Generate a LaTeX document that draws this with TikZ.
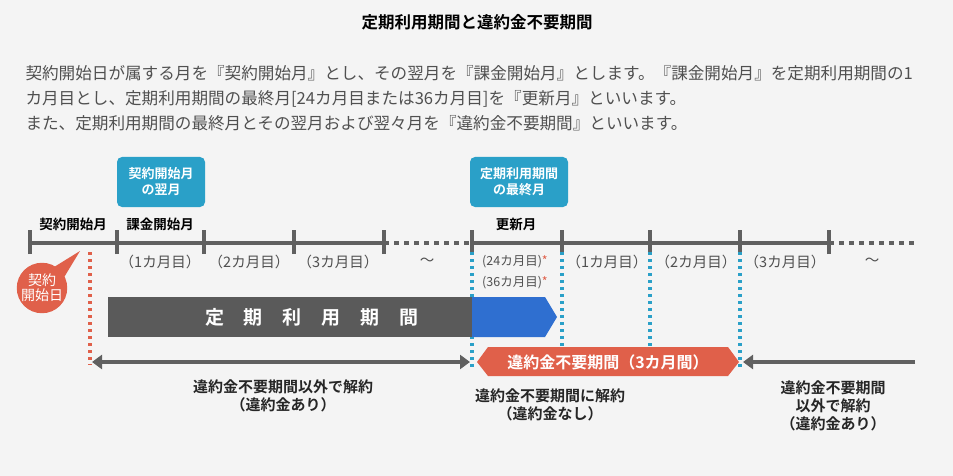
\documentclass[tikz,border=0pt]{standalone}
\usepackage{fontspec}
\setmainfont{Noto Sans CJK JP}
\newfontfamily\jpbold{Noto Sans CJK JP Bold}
\usetikzlibrary{positioning,arrows.meta}
\definecolor{bggray}{HTML}{F4F4F4}
\definecolor{barblue}{HTML}{2AA0C8}
\definecolor{arrowblue}{HTML}{2F6FD0}
\definecolor{redorange}{HTML}{E0604A}
\definecolor{darkgray}{HTML}{5A5A5A}
\definecolor{linegray}{HTML}{606060}
\definecolor{textgray}{HTML}{505050}
\tikzset{
  tagbox/.style={fill=barblue, rounded corners=5pt, text=white, align=center, font=\fontsize{13}{16}\selectfont\jpbold, minimum width=88pt, minimum height=50pt},
  monthlbl/.style={font=\fontsize{13.5}{15}\selectfont\jpbold},
  countlbl/.style={font=\fontsize{14.5}{16}\selectfont, text=textgray},
  smalllbl/.style={font=\fontsize{12.5}{14}\selectfont, text=textgray},
  tickmark/.style={linegray, line width=3.2pt},
  blueguide/.style={barblue, line width=3.5pt, dash pattern=on 3pt off 4pt},
  redguide/.style={redorange, line width=3.5pt, dash pattern=on 3pt off 4pt},
  notelbl/.style={font=\fontsize{15}{18}\selectfont\jpbold, align=center, text=black!85}
}
\begin{document}
\begin{tikzpicture}[x=1pt, y=-1pt]
  \fill[bggray] (0,0) rectangle (953,476);
  \useasboundingbox (0,0) rectangle (953,476);

  % Heading and text
  \node (title) at (477,22) {\fontsize{16.5}{18}\selectfont\jpbold 定期利用期間と違約金不要期間};
  \node[anchor=west, align=left, font=\fontsize{16.6}{25}\selectfont, text=textgray] (intro) at (22,98)
    {契約開始日が属する月を『契約開始月』とし、その翌月を『課金開始月』とします。『課金開始月』を定期利用期間の1\\
     カ月目とし、定期利用期間の最終月[24カ月目または36カ月目]を『更新月』といいます。\\
     また、定期利用期間の最終月とその翌月および翌々月を『違約金不要期間』といいます。};

  % Timeline
  \foreach \n/\x in {t0/30, t1/117, t2/204, t3/294, t4/384, u0/472, u1/562, u2/650, u3/740, u4/829}
    \coordinate (\n) at (\x,243);
  \draw[tickmark] (t0) -- (t4);
  \draw[tickmark] (u0) -- (u4);
  \draw[linegray, line width=3.2pt, dash pattern=on 5pt off 5pt] (t4) -- (u0);
  \draw[linegray, line width=3.2pt, dash pattern=on 5pt off 5pt] (u4) -- (915,243) coordinate (tend);
  \foreach \n in {t0,t1,t2,t3,t4,u0,u1,u2,u3,u4}
    \draw[linegray, line width=3.2pt] ([yshift=-11pt]\n) -- ([yshift=13pt]\n);

  % Guides
  \draw[redguide] (90,252) coordinate (rtop) -- (90,365) coordinate (rbot);
  \foreach \x in {472,562,650,740}
    \draw[blueguide] (\x,252) -- (\x,368);

  % Labels
  \node[monthlbl] (m0) at (73,224) {契約開始月};
  \node[monthlbl] (m1) at (160,224) {課金開始月};
  \node[monthlbl] (m2) at (516,224) {更新月};
  \node[tagbox] (tag1) at (161,182) {契約開始月\\の翌月};
  \node[tagbox, minimum width=98pt] (tag2) at (519,182) {定期利用期間\\の最終月};
  \foreach \x/\s in {160/1, 249/2, 338/3, 607/1, 696/2, 785/3}
    \node[countlbl] at (\x,262) {（\s カ月目）};
  \node[countlbl] at (427,262) {～};
  \node[countlbl] at (872,262) {～};
  \node[smalllbl] (c24) at (515,262) {(24カ月目)\textcolor{redorange}{*}};
  \node[smalllbl] (c36) at (515,283) {(36カ月目)\textcolor{redorange}{*}};

  % Balloon
  \fill[redorange] (80,251) -- (46,272) -- (60,284) -- cycle;
  \node[circle, fill=redorange, minimum size=46pt, inner sep=0pt, text=white, align=center,
        font=\fontsize{14}{15}\selectfont] (start) at (42,288) {契約\\開始日};

  % Bars
  \fill[arrowblue] (472,297) -- (545,297) -- (557,317) -- (545,337) -- (472,337) -- cycle;
  \fill[darkgray] (108,297) rectangle (472,337);
  \node[text=white, font=\fontsize{19}{20}\selectfont\jpbold] (term) at (312,317)
    {定\hspace{20pt}期\hspace{20pt}利\hspace{20pt}用\hspace{20pt}期\hspace{20pt}間};

  % Penalty-free period
  \fill[redorange] (477,362) -- (488,347) -- (728,347) -- (739,362) -- (728,376) -- (488,376) -- cycle;
  \node[text=white, font=\fontsize{16}{17}\selectfont\jpbold] (free) at (608,362) {違約金不要期間（3カ月間）};
  \draw[{Triangle[length=10pt,width=14pt]}-{Triangle[length=10pt,width=14pt]}, linegray, line width=3.5pt] (92,362) -- (470,362);
  \draw[-{Triangle[length=10pt,width=14pt]}, linegray, line width=3.5pt] (915,362) -- (743,362);

  % Notes
  \node[notelbl] (n1) at (283,396) {違約金不要期間以外で解約\\（違約金あり）};
  \node[notelbl] (n2) at (550,405) {違約金不要期間に解約\\（違約金なし）};
  \node[notelbl] (n3) at (833,406) {違約金不要期間\\以外で解約\\（違約金あり）};
\end{tikzpicture}
\end{document}
